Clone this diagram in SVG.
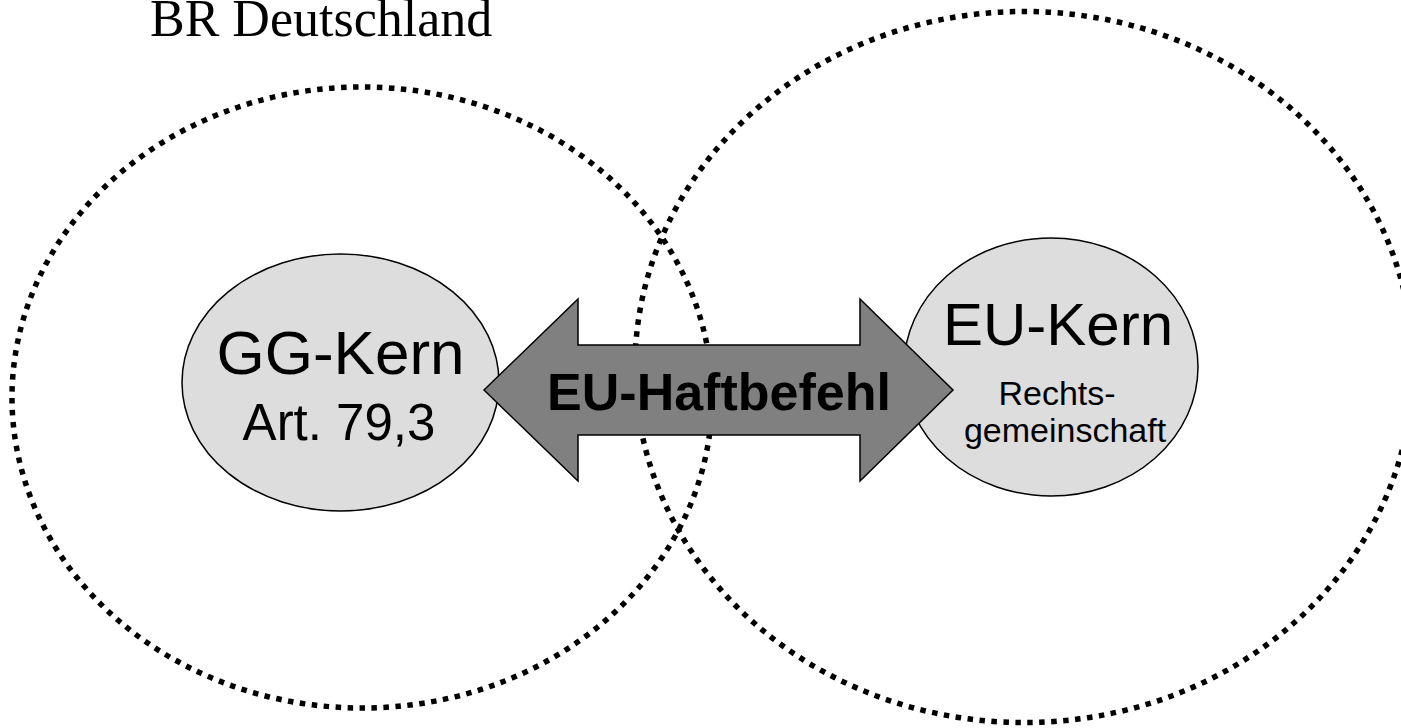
<svg xmlns="http://www.w3.org/2000/svg" width="1401" height="728" viewBox="0 0 1401 728">
<style>
.dot{fill:none;stroke:#000;stroke-width:5.5;stroke-dasharray:5.5 6.5}
.core{fill:#dddddd;stroke:#000;stroke-width:1.5}
.sans{font-family:"Liberation Sans",Arial,sans-serif;fill:#000;text-anchor:middle}
.serif{font-family:"Liberation Serif","Times New Roman",serif;fill:#000}
</style>
<rect width="1401" height="728" fill="#fff"/>
<g id="title"><text class="serif" x="150" y="36" font-size="52">BR Deutschland</text></g>
<g id="br-region"><ellipse class="dot" cx="362" cy="397.5" rx="350" ry="310.5"/></g>
<g id="eu-region"><ellipse class="dot" cx="1024" cy="367" rx="389" ry="355.5"/></g>
<g id="gg-kern">
<ellipse class="core" cx="340.5" cy="382.5" rx="158.5" ry="128.5"/>
<text class="sans" x="340.5" y="374" font-size="62">GG-Kern</text>
<text class="sans" x="339" y="440" font-size="51">Art. 79,3</text>
</g>
<g id="eu-kern">
<ellipse class="core" cx="1051" cy="367" rx="147" ry="129"/>
<text class="sans" x="1058" y="345" font-size="60">EU-Kern</text>
<text class="sans" x="1057" y="405" font-size="34">Rechts-</text>
<text class="sans" x="1065" y="442" font-size="34">gemeinschaft</text>
</g>
<g id="connectors">
<polygon points="484,390 578,299 578,345 860,345 860,299 953,390 860,481 860,435 578,435 578,481" fill="#808080" stroke="#000" stroke-width="1.5" stroke-linejoin="miter"/>
<text x="719" y="410" font-size="52" font-weight="bold" font-family="Liberation Sans,Arial,sans-serif" text-anchor="middle">EU-Haftbefehl</text>
</g>
</svg>
